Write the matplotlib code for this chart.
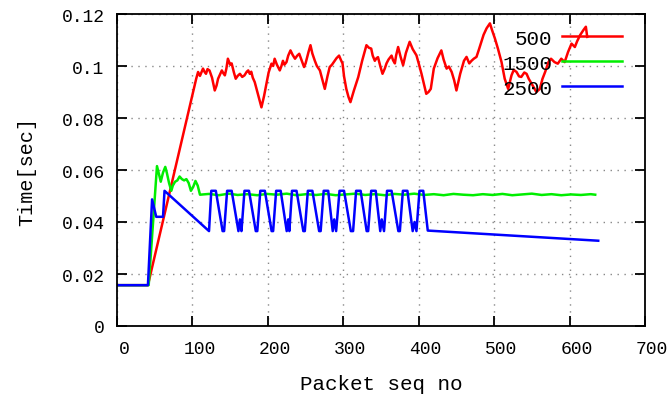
import matplotlib
matplotlib.use('Agg')
import matplotlib.pyplot as plt
from matplotlib.transforms import ScaledTranslation

# series 500 (red)
x_500 = [0, 41, 105, 107.5, 110, 114, 116, 118, 120, 122.6, 126, 129.6, 132, 134, 137, 139,
         141, 143, 145, 147, 150, 152, 155, 157.4, 160, 163, 166, 169, 172, 174, 176, 178,
         180, 182.6, 187, 191.5, 195, 198, 201, 204.8, 207, 209, 212, 215.8, 218, 220, 222,
         224.7, 227, 230, 233, 236, 239, 241.6, 245, 248, 250, 251.6, 254, 256.5, 259,
         262.3, 265, 269, 272, 275.5, 279, 282, 285, 288.6, 291, 294.4, 297, 299, 301, 304,
         307, 309.5, 314, 319.8, 325, 330.7, 334, 337, 339, 341.8, 344, 346, 349, 352, 355,
         357.3, 360, 364, 366, 368.4, 370, 372.7, 376, 379.3, 383, 388, 392, 397, 400,
         403.7, 407, 410, 413, 416, 420, 425, 430, 433, 437, 440, 443.7, 447, 450, 455, 460,
         463.4, 467, 470, 473, 476.6, 480, 483, 486, 490, 494.4, 497, 501, 505, 509.8, 514,
         518.6, 523, 526, 529.7, 533, 536, 540, 543, 546, 549.7, 553, 556, 560.6, 564, 567.6,
         572, 575.4, 580, 584.4, 589, 593.5, 598, 602.6, 607, 610, 614, 618.3, 621.6, 623.4]
y_500 = [0.0157, 0.0157, 0.0951, 0.0977, 0.0962, 0.0990, 0.0978, 0.0970, 0.0988, 0.0983,
         0.0955, 0.0906, 0.0925, 0.0951, 0.0970, 0.0983, 0.0972, 0.0964, 0.0990, 0.1028,
         0.1005, 0.1010, 0.0975, 0.0951, 0.0962, 0.0970, 0.0958, 0.0964, 0.0978, 0.0983,
         0.0970, 0.0978, 0.0955, 0.0938, 0.0890, 0.0841, 0.0885, 0.0930, 0.0975, 0.1009,
         0.1000, 0.1028, 0.1005, 0.0983, 0.1000, 0.1020, 0.1005, 0.1015, 0.1040, 0.1060,
         0.1042, 0.1028, 0.1040, 0.1047, 0.1020, 0.0996, 0.1010, 0.1028, 0.1055, 0.1080,
         0.1048, 0.1020, 0.1000, 0.0983, 0.0950, 0.0912, 0.0960, 0.0996, 0.1005, 0.1020,
         0.1030, 0.1040, 0.1022, 0.1010, 0.0960, 0.0912, 0.0880, 0.0861, 0.0905, 0.0957,
         0.1020, 0.1080, 0.1070, 0.1067, 0.1040, 0.1020, 0.1030, 0.1034, 0.1000, 0.0970,
         0.0990, 0.1010, 0.1025, 0.1040, 0.1022, 0.1010, 0.1040, 0.1073, 0.1035, 0.1003,
         0.1050, 0.1093, 0.1065, 0.1041, 0.1010, 0.0970, 0.0930, 0.0893, 0.0900, 0.0912,
         0.0990, 0.1030, 0.1060, 0.1025, 0.0990, 0.0998, 0.0977, 0.0945, 0.0906, 0.0970,
         0.1020, 0.1035, 0.1010, 0.1020, 0.1028, 0.1035, 0.1065, 0.1093, 0.1120, 0.1145,
         0.1164, 0.1140, 0.1106, 0.1067, 0.1015, 0.0951, 0.0912, 0.0964, 0.0985, 0.0977,
         0.0960, 0.0958, 0.0975, 0.0970, 0.0950, 0.0932, 0.0915, 0.0900, 0.0912, 0.0950,
         0.0977, 0.1015, 0.1028, 0.1015, 0.1009, 0.1028, 0.1015, 0.1054, 0.1086, 0.1073,
         0.1095, 0.1119, 0.1138, 0.1151, 0.1112]

# series 1500 (green)
x_1500 = [0, 42, 53, 56, 58, 61, 64, 66, 69, 72, 74, 77, 80, 83, 86, 89, 92, 95, 98, 101,
          104, 107, 110, 122, 135, 148, 160, 173, 186, 199, 212, 225, 238, 251, 264, 277,
          290, 303, 316, 329, 342, 355, 368, 381, 394, 407, 420, 433, 446, 459, 472, 485,
          498, 511, 524, 537, 550, 563, 576, 589, 602, 615, 628, 634]
y_1500 = [0.0157, 0.0157, 0.0615, 0.0580, 0.0555, 0.0590, 0.0612, 0.0590, 0.0550, 0.0520,
          0.0540, 0.0555, 0.0560, 0.0575, 0.0565, 0.0560, 0.0565, 0.0550, 0.0520, 0.0535,
          0.0558, 0.0540, 0.0505, 0.0508, 0.0503, 0.0509, 0.0504, 0.0507, 0.0503, 0.0508,
          0.0505, 0.0509, 0.0503, 0.0507, 0.0504, 0.0508, 0.0503, 0.0506, 0.0509, 0.0504,
          0.0507, 0.0503, 0.0508, 0.0505, 0.0509, 0.0504, 0.0507, 0.0503, 0.0508, 0.0505,
          0.0503, 0.0507, 0.0504, 0.0508, 0.0503, 0.0506, 0.0509, 0.0504, 0.0507, 0.0503,
          0.0506, 0.0504, 0.0507, 0.0505]

# series 2500 (blue)
x_2500 = [0, 41, 46.5, 52, 61, 63, 122, 125, 131, 140, 142, 146, 152, 161, 163, 165,
          169, 175, 184, 186, 190, 196, 205, 207, 211, 217, 225, 227, 228.5, 232, 238,
          247, 249, 253, 259, 268, 270, 274, 280, 286, 288, 290.5, 295, 301, 310, 313,
          317, 323, 331, 333, 337, 343, 349, 351, 354, 358, 364, 373, 375, 379, 385,
          392, 394.5, 397, 401, 406, 412, 638]
y_2500 = [0.0157, 0.0157, 0.0487, 0.0420, 0.0420, 0.0520, 0.0365, 0.0520, 0.0520, 0.0365,
          0.0365, 0.0520, 0.0520, 0.0365, 0.0410, 0.0365,
          0.0520, 0.0520, 0.0365, 0.0365, 0.0520, 0.0520, 0.0365, 0.0365, 0.0520, 0.0520,
          0.0365, 0.0410, 0.0365, 0.0520, 0.0520,
          0.0365, 0.0365, 0.0520, 0.0520, 0.0365, 0.0365, 0.0520, 0.0520, 0.0365, 0.0410,
          0.0365, 0.0520, 0.0520, 0.0365, 0.0365,
          0.0520, 0.0520, 0.0365, 0.0365, 0.0520, 0.0520, 0.0365, 0.0410, 0.0365, 0.0520,
          0.0520, 0.0365, 0.0365, 0.0520, 0.0520,
          0.0365, 0.0400, 0.0365, 0.0520, 0.0520, 0.0367, 0.0328]

x_ticks = [0, 100, 200, 300, 400, 500, 600, 700]
y_ticks = [0, 0.02, 0.04, 0.06, 0.08, 0.1, 0.12]
y_tick_labels = ['0', '0.02', '0.04', '0.06', '0.08', '0.1', '0.12']

plt.rcParams['font.family'] = ['Liberation Mono', 'DejaVu Sans Mono']

fig = plt.figure(figsize=(6.71, 4.02), dpi=100)
ax = fig.add_axes([117 / 671, 1 - 327 / 402, (645 - 117) / 671, (327 - 15) / 402])

ax.plot(x_500, y_500, color='#ff0000', lw=1.8, label='500')
ax.plot(x_1500, y_1500, color='#00ee00', lw=1.8, label='1500')
ax.plot(x_2500, y_2500, color='#0000ff', lw=1.8, label='2500')

ax.set_xlim(0, 700)
ax.set_ylim(0, 0.12)
ax.set_xticks(x_ticks)
ax.set_yticks(y_ticks)
ax.set_yticklabels(y_tick_labels)

ax.grid(True, color='#888888', linestyle=(0, (1, 4)), linewidth=1.0)
ax.tick_params(direction='in', length=7, width=1.3, top=True, right=True,
               labelsize=13, colors='black')
ax.tick_params(axis='x', pad=10)
ax.tick_params(axis='y', pad=9)
for s in ax.spines.values():
    s.set_linewidth(1.3)

# gnuplot puts x labels a bit right of the ticks
shift = ScaledTranslation(7 / 100, 0, fig.dpi_scale_trans)
for lab in ax.get_xticklabels():
    lab.set_transform(lab.get_transform() + shift)

ax.set_xlabel('Packet seq no', fontsize=15, labelpad=12)
ax.set_ylabel('Time[sec]', fontsize=14.5, labelpad=18)

leg = ax.legend(loc='upper right', bbox_to_anchor=(0.984, 1.0), frameon=False,
                markerfirst=False, fontsize=15, handlelength=2.9, handletextpad=0.45,
                labelspacing=0.29, borderpad=0.2)

fig.savefig('out.png', dpi=100)
